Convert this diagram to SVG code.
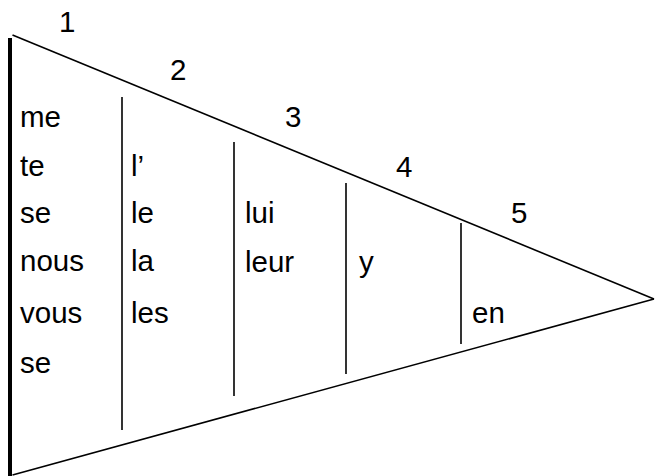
<svg xmlns="http://www.w3.org/2000/svg" width="655" height="476" viewBox="0 0 655 476">
<style>
text{font-family:"Liberation Sans",Arial,sans-serif;font-size:29.5px;fill:#000}
.t{stroke:#000;stroke-width:1.6;fill:none}
</style>
<rect width="655" height="476" fill="#fff"/>
<g id="connectors">
<line x1="10" y1="38" x2="10" y2="476" stroke="#000" stroke-width="4"/>
<line class="t" x1="12.5" y1="35" x2="654" y2="299"/>
<line class="t" x1="12.5" y1="475" x2="654" y2="299"/>
<line class="t" x1="122" y1="97" x2="122" y2="430"/>
<line class="t" x1="234" y1="142" x2="234" y2="396"/>
<line class="t" x1="346" y1="183" x2="346" y2="374"/>
<line class="t" x1="461" y1="223" x2="461" y2="344"/>
</g>
<g id="numbers">
<text x="59" y="32">1</text>
<text x="170" y="80">2</text>
<text x="285" y="127">3</text>
<text x="396" y="177">4</text>
<text x="511" y="223">5</text>
</g>
<g id="col1">
<text x="20" y="127">me</text>
<text x="20" y="176">te</text>
<text x="20" y="223">se</text>
<text x="20" y="271">nous</text>
<text x="20" y="323">vous</text>
<text x="20" y="373">se</text>
</g>
<g id="col2">
<text x="131" y="176">l’</text>
<text x="131" y="223">le</text>
<text x="131" y="271">la</text>
<text x="131" y="323">les</text>
</g>
<g id="col3">
<text x="245" y="223">lui</text>
<text x="245" y="272">leur</text>
</g>
<g id="col4">
<text x="359" y="272">y</text>
</g>
<g id="col5">
<text x="472" y="323">en</text>
</g>
</svg>
